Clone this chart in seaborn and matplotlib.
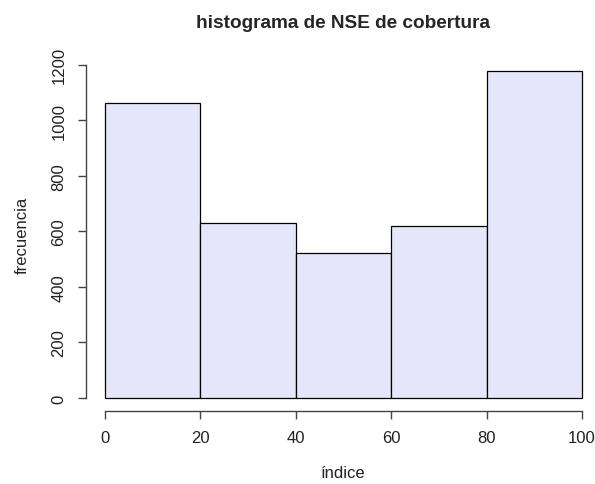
import numpy as np
import pandas as pd
import matplotlib
matplotlib.use("Agg")
import matplotlib.pyplot as plt
import seaborn as sns

bordes = [0, 20, 40, 60, 80, 100]
frecuencias = [1063, 630, 521, 619, 1178]
marcas_x = [0, 20, 40, 60, 80, 100]
marcas_y = [0, 200, 400, 600, 800, 1000, 1200]

df = pd.DataFrame({
    "indice": [(bordes[i] + bordes[i + 1]) / 2 for i in range(len(frecuencias))],
    "n": frecuencias,
})

sns.set_style("white")
plt.rcParams["font.family"] = ["Liberation Sans", "DejaVu Sans"]

fig = plt.figure(figsize=(5.95, 4.85), dpi=100)
ax = fig.add_axes([0.1445, 0.1505, 0.8655, 0.728])

sns.histplot(data=df, x="indice", weights="n", bins=bordes, color="#E6E6FA",
             edgecolor="black", linewidth=0.9, alpha=1, ax=ax)

ax.set_xlim(-4, 104)
ax.set_ylim(-0.04 * max(frecuencias), 1.04 * max(frecuencias))
ax.set_xticks(marcas_x)
ax.set_yticks(marcas_y)
ax.tick_params(axis="both", bottom=True, left=True, direction="out", length=6,
               width=1, color="#444444", labelsize=12, labelcolor="#222222")
ax.tick_params(axis="y", labelrotation=90, pad=8)
for lbl in ax.get_yticklabels():
    lbl.set_va("center")
ax.tick_params(axis="x", pad=8)

for s in ["top", "right"]:
    ax.spines[s].set_visible(False)
ax.spines["left"].set_bounds(0, 1200)
ax.spines["bottom"].set_bounds(0, 100)
for s in ["left", "bottom"]:
    ax.spines[s].set_color("#444444")
    ax.spines[s].set_linewidth(1)

ax.set_title("histograma de NSE de cobertura", fontsize=13.7, fontweight="bold", pad=22)
ax.set_xlabel("índice", fontsize=12, color="#222222", labelpad=14)
ax.set_ylabel("frecuencia", fontsize=12, color="#222222", labelpad=16)

plt.savefig("out.png", dpi=100)
